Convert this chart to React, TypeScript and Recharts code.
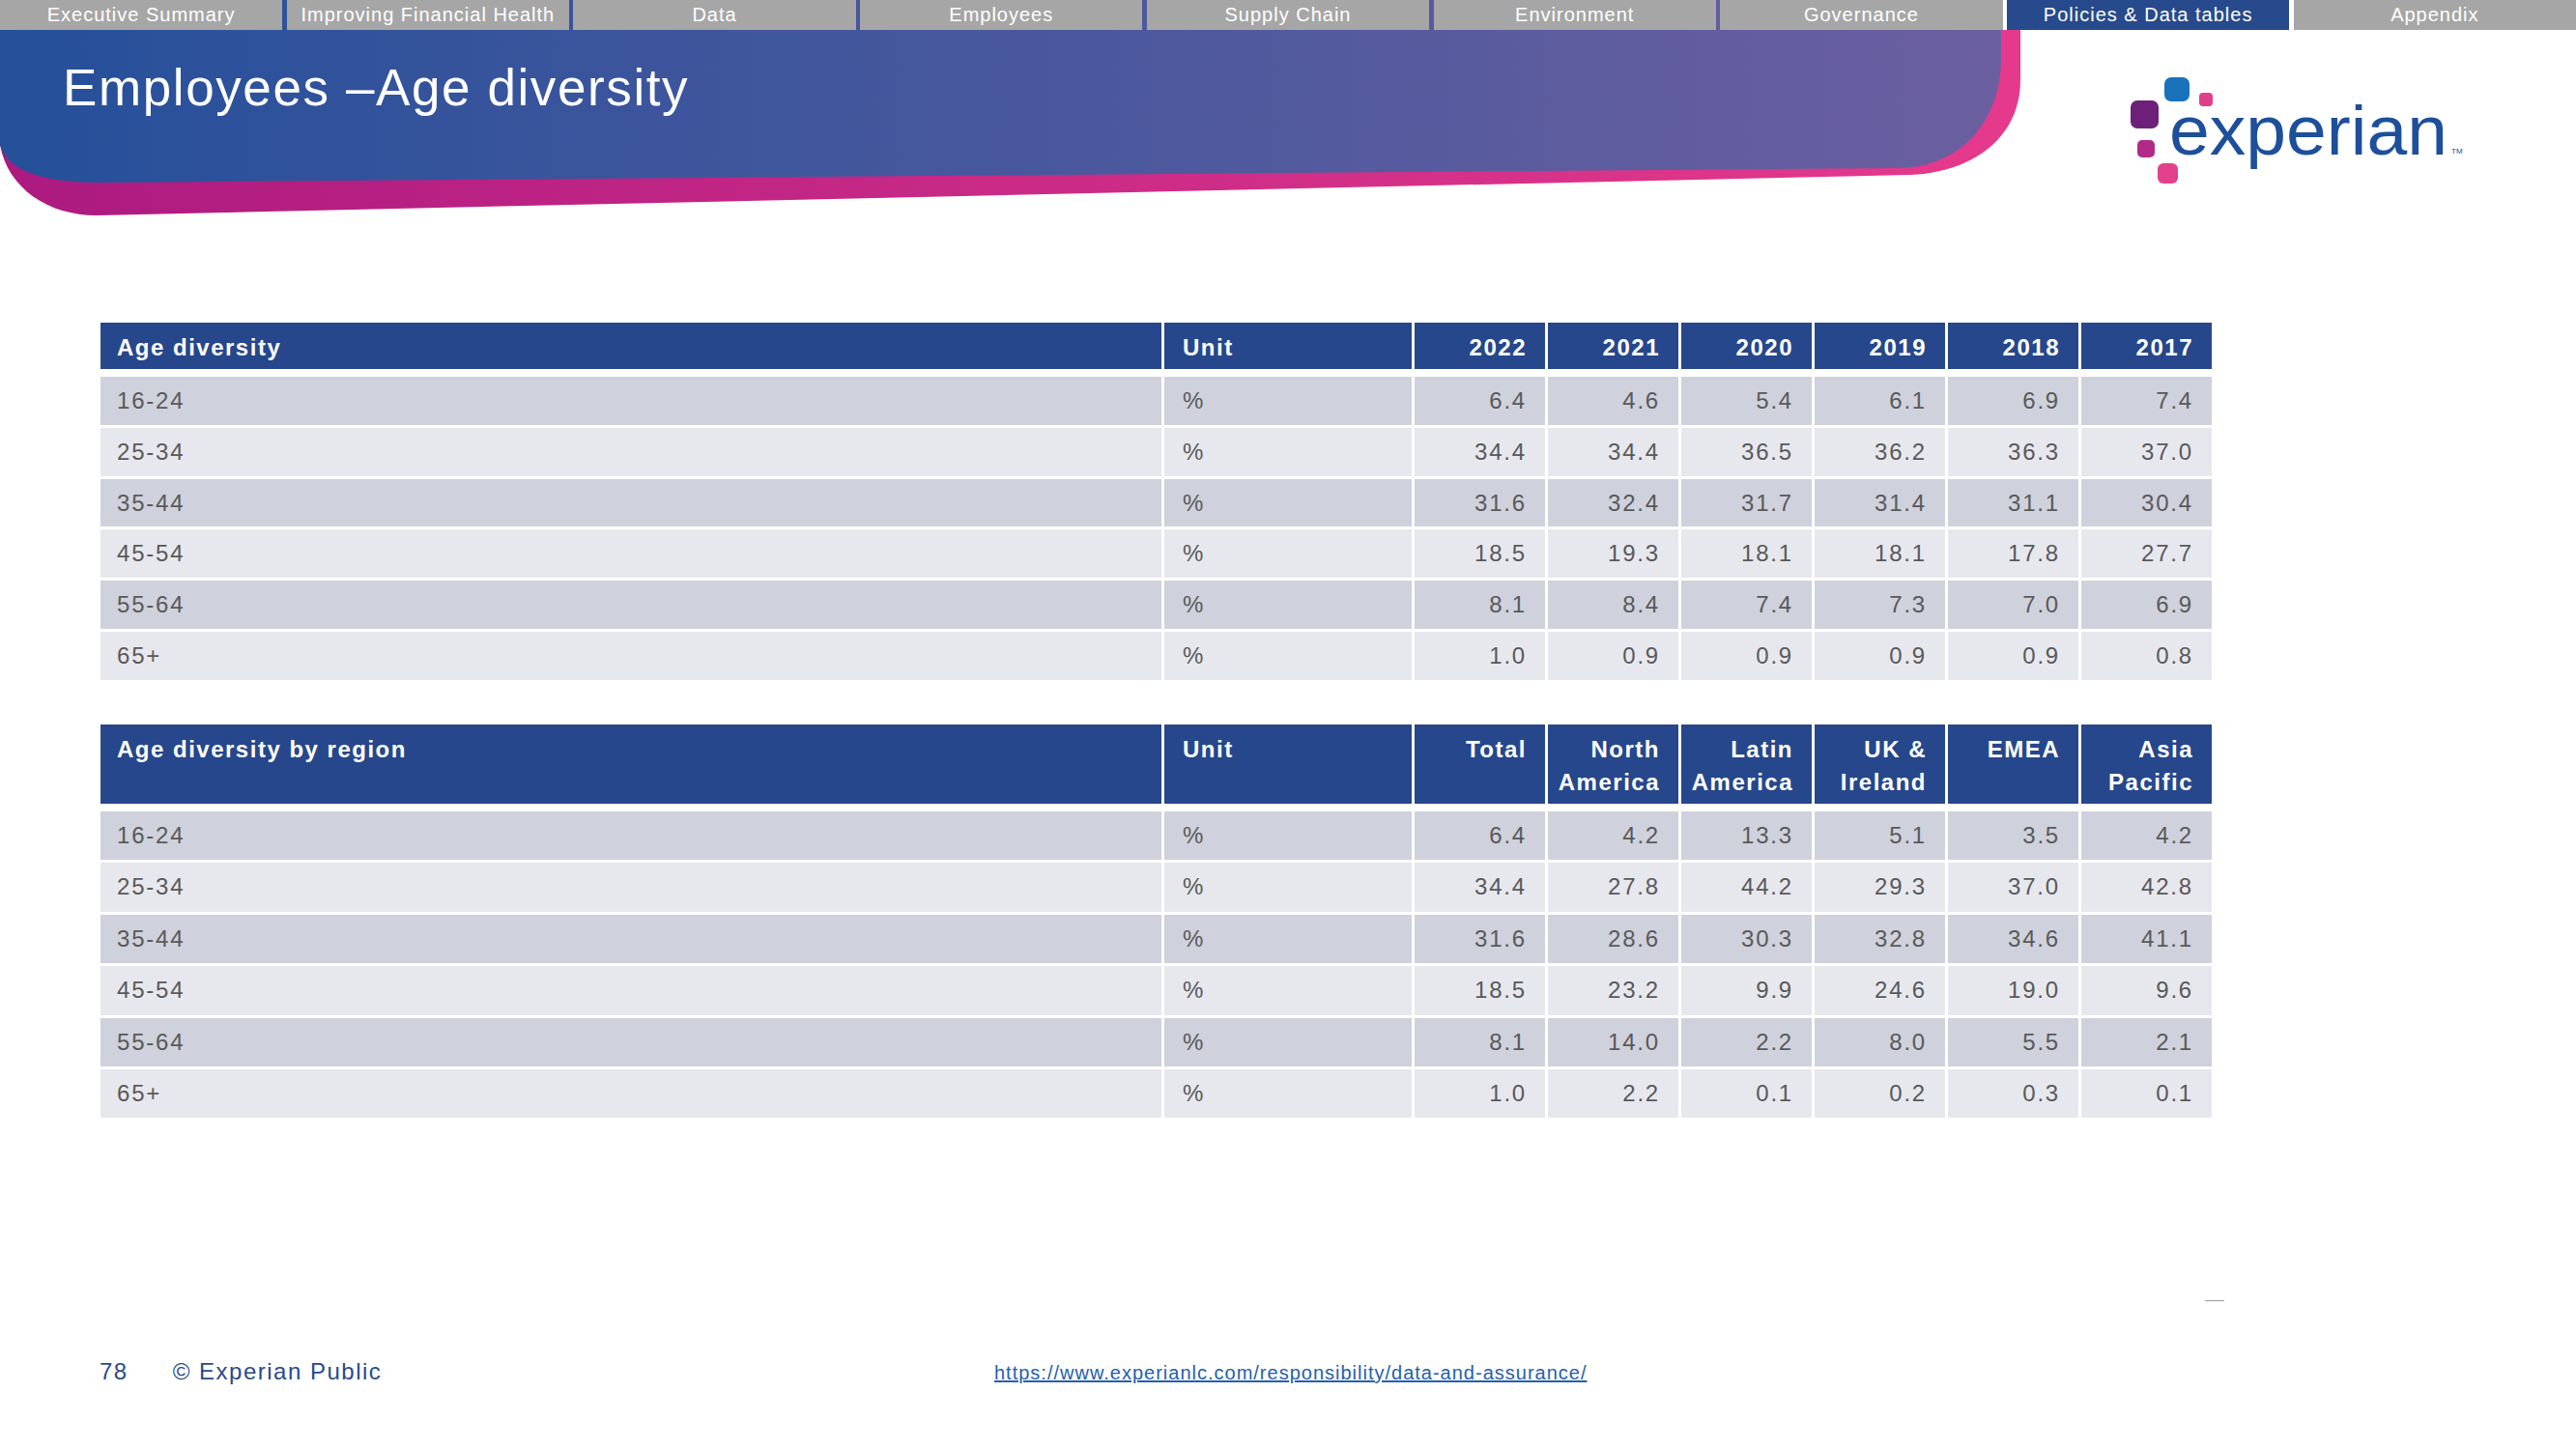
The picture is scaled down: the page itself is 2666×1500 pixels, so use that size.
import React from "react";
import { Surface, Layer, Rectangle } from "recharts";

// navigation tabs across the top of the slide
const NAV_TABS = [
  "Executive Summary",
  "Improving Financial Health",
  "Data",
  "Employees",
  "Supply Chain",
  "Environment",
  "Governance",
  "Policies & Data tables",
  "Appendix",
];
const ACTIVE_TAB = "Policies & Data tables";

const AGE_BANDS = ["16-24", "25-34", "35-44", "45-54", "55-64", "65+"];

// table 1: age diversity by year (%)
const YEARS = ["2022", "2021", "2020", "2019", "2018", "2017"];
const Y2022 = [6.4, 34.4, 31.6, 18.5, 8.1, 1.0];
const Y2021 = [4.6, 34.4, 32.4, 19.3, 8.4, 0.9];
const Y2020 = [5.4, 36.5, 31.7, 18.1, 7.4, 0.9];
const Y2019 = [6.1, 36.2, 31.4, 18.1, 7.3, 0.9];
const Y2018 = [6.9, 36.3, 31.1, 17.8, 7.0, 0.9];
const Y2017 = [7.4, 37.0, 30.4, 27.7, 6.9, 0.8];

// table 2: age diversity by region (%)
const REGIONS = [["Total"], ["North", "America"], ["Latin", "America"], ["UK &", "Ireland"], ["EMEA"], ["Asia", "Pacific"]];
const TOTAL = [6.4, 34.4, 31.6, 18.5, 8.1, 1.0];
const NORTH_AMERICA = [4.2, 27.8, 28.6, 23.2, 14.0, 2.2];
const LATIN_AMERICA = [13.3, 44.2, 30.3, 9.9, 2.2, 0.1];
const UK_IRELAND = [5.1, 29.3, 32.8, 24.6, 8.0, 0.2];
const EMEA = [3.5, 37.0, 34.6, 19.0, 5.5, 0.3];
const ASIA_PACIFIC = [4.2, 42.8, 41.1, 9.6, 2.1, 0.1];

const FONT = "'Liberation Sans', Arial, sans-serif";
const HEADER_BG = "#26478b";
const ROW_DARK = "#cfd1dc";
const ROW_LIGHT = "#e7e8ee";
const TEXT_GREY = "#595959";
const COLS = "1098px 256px repeat(6, 135px)";

function DataTable(props: {
  top: number;
  title: string;
  columns: string[][];
  values: number[][];
  headerHeight: number;
  rowHeight: number;
}) {
  const { top, title, columns, values, headerHeight, rowHeight } = props;
  const head: React.CSSProperties = {
    background: HEADER_BG,
    color: "#fff",
    fontWeight: 700,
    fontSize: 24,
    letterSpacing: 1.5,
    lineHeight: "34px",
    paddingTop: 9,
    boxSizing: "border-box",
    height: headerHeight,
  };
  const body: React.CSSProperties = {
    color: TEXT_GREY,
    fontSize: 24,
    letterSpacing: 1.8,
    lineHeight: rowHeight + "px",
    height: rowHeight,
    boxSizing: "border-box",
  };
  return (
    <div style={{ position: "absolute", left: 104, top, fontFamily: FONT }}>
      <div style={{ display: "grid", gridTemplateColumns: COLS, columnGap: 3 }}>
        <div style={{ ...head, paddingLeft: 17 }}>{title}</div>
        <div style={{ ...head, paddingLeft: 19 }}>Unit</div>
        {columns.map((lines, i) => (
          <div key={i} style={{ ...head, textAlign: "right", paddingRight: 19 }}>
            {lines.map((l, j) => (
              <div key={j}>{l}</div>
            ))}
          </div>
        ))}
      </div>
      <div
        style={{
          display: "grid",
          gridTemplateColumns: COLS,
          columnGap: 3,
          rowGap: 3,
          marginTop: 8,
        }}
      >
        {AGE_BANDS.map((band, r) => {
          const bg = r % 2 === 0 ? ROW_DARK : ROW_LIGHT;
          return (
            <React.Fragment key={band}>
              <div style={{ ...body, background: bg, paddingLeft: 17 }}>{band}</div>
              <div style={{ ...body, background: bg, paddingLeft: 19 }}>%</div>
              {values.map((col, c) => (
                <div key={c} style={{ ...body, background: bg, textAlign: "right", paddingRight: 19 }}>
                  {col[r].toFixed(1)}
                </div>
              ))}
            </React.Fragment>
          );
        })}
      </div>
    </div>
  );
}

function Banner() {
  return (
    <div style={{ position: "absolute", left: 0, top: 0 }}>
      <Surface width={2666} height={240} viewBox={{ x: 0, y: 0, width: 2666, height: 240 }}>
        <defs>
          <linearGradient id="blueGrad" x1="0" y1="0" x2="1" y2="0">
            <stop offset="0%" stopColor="#25509a" />
            <stop offset="100%" stopColor="#6b5fa0" />
          </linearGradient>
          <linearGradient id="pinkGrad" x1="0" y1="0" x2="1" y2="0">
            <stop offset="0%" stopColor="#ac1a80" />
            <stop offset="100%" stopColor="#e53a8c" />
          </linearGradient>
        </defs>
        <Layer>
          <path
            d="M0,31 H2091 V83 C2091,140 2045,178 1977,181 L100,223 C50,223 8,195 0,150 Z"
            fill="url(#pinkGrad)"
          />
          <path
            d="M0,0 H2071 V60 C2071,125 2030,172 1967,174 L100,189 C48,189 8,178 0,150 Z"
            fill="url(#blueGrad)"
          />
        </Layer>
        <Layer>
          <Rectangle x={2240} y={80} width={26} height={25} radius={7} fill="#1a72bb" />
          <Rectangle x={2276} y={96} width={14} height={14} radius={4} fill="#e0408a" />
          <Rectangle x={2205} y={104} width={29} height={29} radius={7} fill="#6d2077" />
          <Rectangle x={2212} y={145} width={18} height={18} radius={5} fill="#b12a8a" />
          <Rectangle x={2233} y={169} width={21} height={21} radius={6} fill="#e3418c" />
          <text
            x={2245}
            y={160}
            fontSize={73}
            fontFamily={FONT}
            fill="#1d4f9a"
            textLength={288}
            lengthAdjust="spacingAndGlyphs"
          >
            experian
          </text>
          <text x={2537} y={159} fontSize={8} fontFamily={FONT} fill="#1d4f9a">
            TM
          </text>
        </Layer>
      </Surface>
    </div>
  );
}

export default function App() {
  return (
    <div
      style={{
        position: "absolute",
        left: 0,
        top: 0,
        width: 2666,
        height: 1500,
        overflow: "hidden",
        background: "#fff",
        fontFamily: FONT,
      }}
    >
      <Banner />
      <div style={{ position: "absolute", left: 0, top: 0, width: 2666, height: 31, display: "flex", gap: 4.5 }}>
        {NAV_TABS.map((t) => (
          <div
            key={t}
            style={{
              flex: 1,
              background: t === ACTIVE_TAB ? "#264a8c" : "#a6a6a6",
              color: "#fff",
              fontSize: 20,
              letterSpacing: 1,
              lineHeight: "31px",
              textAlign: "center",
              whiteSpace: "nowrap",
            }}
          >
            {t}
          </div>
        ))}
      </div>
      <div
        style={{
          position: "absolute",
          left: 65,
          top: 61,
          color: "#fff",
          fontSize: 53,
          letterSpacing: 1.6,
          lineHeight: "60px",
          whiteSpace: "nowrap",
        }}
      >
        Employees –Age diversity
      </div>

      <DataTable top={334} title="Age diversity" columns={YEARS.map((y) => [y])}
        values={[Y2022, Y2021, Y2020, Y2019, Y2018, Y2017]} headerHeight={48} rowHeight={49.8} />
      <DataTable top={750} title="Age diversity by region" columns={REGIONS}
        values={[TOTAL, NORTH_AMERICA, LATIN_AMERICA, UK_IRELAND, EMEA, ASIA_PACIFIC]} headerHeight={82} rowHeight={50.4} />

      <div style={{ position: "absolute", left: 2282, top: 1346, width: 20, height: 1, background: "#9a9a9a" }} />
      <div
        style={{
          position: "absolute",
          left: 103,
          top: 1405,
          color: "#2a4a8a",
          fontSize: 24,
          letterSpacing: 1.5,
          lineHeight: "30px",
          whiteSpace: "nowrap",
        }}
      >
        78<span style={{ marginLeft: 46 }}>© Experian Public</span>
      </div>
      <div
        style={{
          position: "absolute",
          left: 1029,
          top: 1408,
          color: "#2460ad",
          fontSize: 20,
          letterSpacing: 1,
          lineHeight: "26px",
          textDecoration: "underline",
          whiteSpace: "nowrap",
        }}
      >
        https://www.experianlc.com/responsibility/data-and-assurance/
      </div>
    </div>
  );
}
